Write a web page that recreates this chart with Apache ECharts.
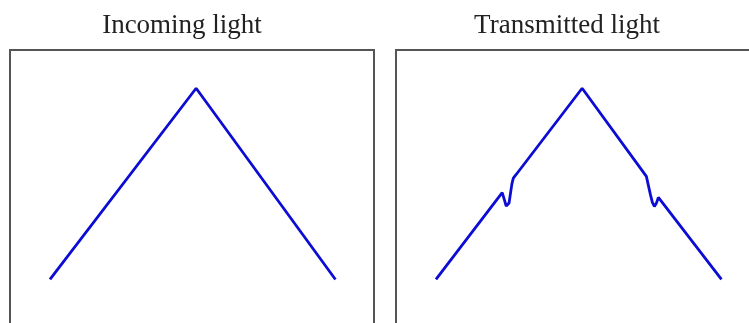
<!DOCTYPE html>
<html>
<head>
<meta charset="utf-8">
<script src="https://cdn.jsdelivr.net/npm/echarts@6/dist/echarts.min.js"></script>
<style>
  html, body { margin: 0; padding: 0; background: #fff; }
  #chart { width: 749px; height: 323px; }
</style>
</head>
<body>
<div id="chart"></div>
<script>
// panel titles
var titles = ["Incoming light", "Transmitted light"];

// incoming spectrum: plain triangle (x = frequency, y = intensity, arbitrary units)
var incomingX = [0, 51.2, 100];
var incomingY = [0, 100, 0];

// transmitted spectrum: same triangle with two dispersive dips
var transmittedX = [0, 23.2, 24.0, 24.6, 25.1, 25.6, 26.1, 26.6, 27.1, 28.1, 51.2,
    73.7, 74.4, 75.1, 75.8, 76.5, 77.2, 77.9, 78.6, 100];
var transmittedY = [0, 45.4, 41.5, 38.4, 37.8, 40.0, 45.0, 50.0, 53.0, 54.9, 100,
    53.9, 49.2, 44.5, 40.3, 38.2, 39.8, 42.9, 43.8, 0];

function pairs(xs, ys) {
    return xs.map(function(x, i) { return [x, ys[i]]; });
}

var myChart = echarts.init(document.getElementById("chart"));

var hiddenAxis = {
    type: "value",
    axisLine: { show: false },
    axisTick: { show: false },
    axisLabel: { show: false },
    splitLine: { show: false }
};

function xAxis(idx) {
    return Object.assign({}, hiddenAxis, { gridIndex: idx, min: -14, max: 113.5 });
}
function yAxis(idx) {
    return Object.assign({}, hiddenAxis, { gridIndex: idx, min: -28, max: 120 });
}

var lineStyle = { color: "#0c0cd4", width: 2.8 };
var titleStyle = { fontFamily: "Liberation Serif", fontSize: 27, fontWeight: "normal", color: "#222" };

// boxes run past the bottom/right edge of the picture
var gridBase = { top: 50, width: 364, height: 283, outerBoundsMode: "none",
    show: true, borderColor: "#555", borderWidth: 2, backgroundColor: "#fff" };

myChart.setOption({
    animation: false,
    title: [{
        text: titles[0], left: 182, top: 12, padding: 0, textAlign: "center", textStyle: titleStyle
    }, {
        text: titles[1], left: 567, top: 12, padding: 0, textAlign: "center", textStyle: titleStyle
    }],
    grid: [
        Object.assign({ left: 10 }, gridBase),
        Object.assign({ left: 396 }, gridBase)
    ],
    xAxis: [xAxis(0), xAxis(1)],
    yAxis: [yAxis(0), yAxis(1)],
    series: [{
        type: "line",
        xAxisIndex: 0,
        yAxisIndex: 0,
        data: pairs(incomingX, incomingY),
        showSymbol: false,
        lineStyle: lineStyle
    }, {
        type: "line",
        xAxisIndex: 1,
        yAxisIndex: 1,
        data: pairs(transmittedX, transmittedY),
        showSymbol: false,
        lineStyle: lineStyle
    }]
});
</script>
</body>
</html>
